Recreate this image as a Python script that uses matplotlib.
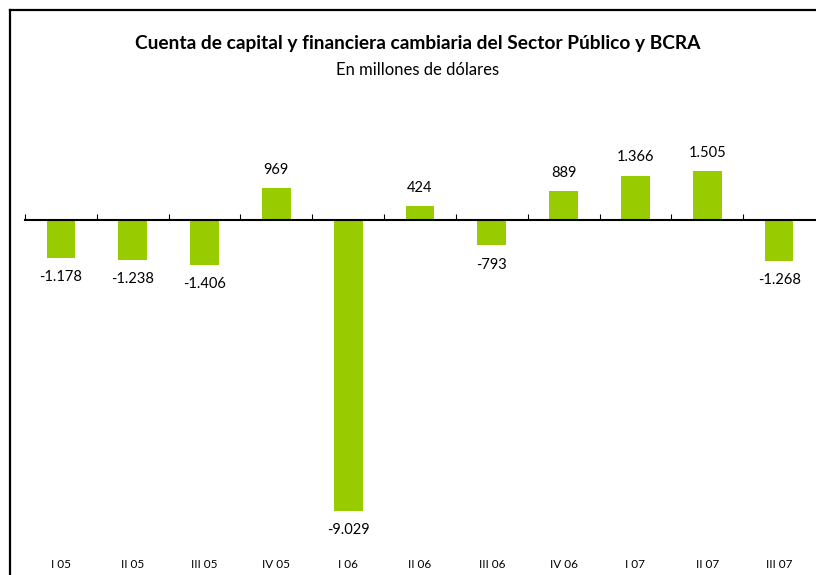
import matplotlib.pyplot as plt
from matplotlib.lines import Line2D
import matplotlib.transforms as mtransforms

plt.rcParams['font.family'] = ['Lato', 'DejaVu Sans']

quarters = ['I 05', 'II 05', 'III 05', 'IV 05', 'I 06', 'II 06', 'III 06',
            'IV 06', 'I 07', 'II 07', 'III 07']
values = [-1178, -1238, -1406, 969, -9029, 424, -793, 889, 1366, 1505, -1268]

fig = plt.figure(figsize=(8.16, 5.75), dpi=100)
ax = fig.add_axes([25 / 816, 20 / 575, 790 / 816, 445 / 575])

x = list(range(len(quarters)))
bars = ax.bar(x, values, width=0.4, color='#99CC00', zorder=2)

ax.set_xlim(-0.5, len(quarters) - 0.5)
ax.set_ylim(-10400, 3400)

# zero line with small upward ticks between categories
for s in ['top', 'right', 'left']:
    ax.spines[s].set_visible(False)
ax.spines['bottom'].set_position(('data', 0))
ax.spines['bottom'].set_linewidth(1.5)
ax.spines['bottom'].set_zorder(3)
ax.set_xticks([i - 0.5 for i in range(len(quarters))])
ax.tick_params(axis='x', direction='in', length=4, width=0.8, labelbottom=False)
ax.set_yticks([])

for xi, v in zip(x, values):
    lbl = f"{v:,}".replace(",", ".")
    if v >= 0:
        ax.annotate(lbl, (xi, v), xytext=(0, 8), textcoords='offset points',
                    ha='center', va='bottom', fontsize=10.5)
    else:
        ax.annotate(lbl, (xi, v), xytext=(0, -9), textcoords='offset points',
                    ha='center', va='top', fontsize=10.5)

trans = mtransforms.blended_transform_factory(ax.transData, fig.transFigure)
for xi, q in zip(x, quarters):
    ax.text(xi, 1 - 565 / 575, q, transform=trans, ha='center', va='center',
            fontsize=8.5)

fig.text(418 / 816, 1 - 43 / 575,
         'Cuenta de capital y financiera cambiaria del Sector Público y BCRA',
         ha='center', va='center', fontsize=13.8, fontweight='bold')
fig.text(418 / 816, 1 - 70 / 575, 'En millones de dólares',
         ha='center', va='center', fontsize=12)

# outer frame (right and bottom edges fall outside the image)
fy = 1 - 10 / 575
fx = 10 / 816
fig.add_artist(Line2D([fx, 1.0], [fy, fy], color='black', lw=1.6,
                      transform=fig.transFigure))
fig.add_artist(Line2D([fx, fx], [0, fy], color='black', lw=1.6,
                      transform=fig.transFigure))

fig.savefig('out.png', dpi=100)
